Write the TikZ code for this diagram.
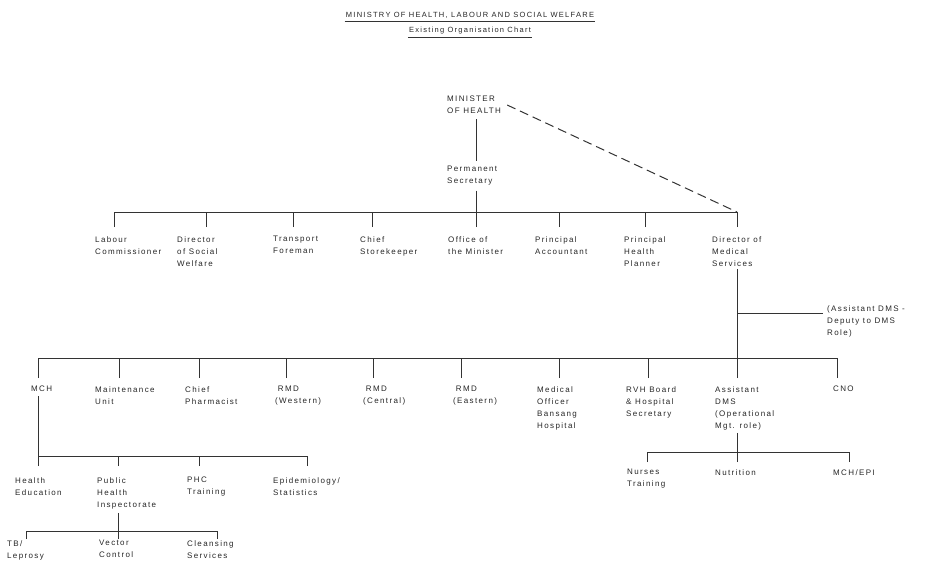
\documentclass[tikz,border=0pt]{standalone}
\usepackage{fontspec}
\setmainfont{Liberation Sans}[LetterSpace=17]
\begin{document}
\begin{tikzpicture}[x=1pt,y=-1pt,
  lbl/.style={anchor=north west, inner sep=0pt, align=left, text=black!85,
    font=\fontsize{8}{12}\selectfont},
  ttl/.style={inner sep=1pt, text=black!85, font=\fontsize{7.5}{9}\selectfont},
  ln/.style={line width=1pt, black!80}]
\useasboundingbox (0,0) rectangle (925,565);

% titles
\node[ttl] (title) at (470,15) {MINISTRY OF HEALTH, LABOUR AND SOCIAL WELFARE};
\node[ttl] (subtitle) at (470,31) {Existing Organisation Chart};
\draw[ln, line width=1.3pt] ([yshift=-2pt]title.south west) -- ([yshift=-2pt]title.south east);
\draw[ln, line width=1.3pt] ([yshift=-2pt]subtitle.south west) -- ([yshift=-2pt]subtitle.south east);

% bus heights
\coordinate (bus1) at (0,212);
\coordinate (bus2) at (0,358);
\coordinate (bus3) at (0,456);
\coordinate (bus4) at (0,531);
\coordinate (bus5) at (0,452);

% top
\node[lbl] (mini) at (447,96) {MINISTER\\OF HEALTH};
\node[lbl] (ps) at (447,166) {Permanent\\Secretary};

% first tier
\node[lbl] (lab) at (95,236) {Labour\\Commissioner};
\node[lbl] (dsw) at (177,236) {Director\\of Social\\Welfare};
\node[lbl] (tra) at (273,236) {Transport\\Foreman};
\node[lbl] (chs) at (360,236) {Chief\\Storekeeper};
\node[lbl] (off) at (448,236) {Office of\\the Minister};
\node[lbl] (pac) at (535,236) {Principal\\Accountant};
\node[lbl] (php) at (624,236) {Principal\\Health\\Planner};
\node[lbl] (dms) at (712,236) {Director of\\Medical\\Services};
\node[lbl] (dep) at (827,305) {(Assistant DMS -\\Deputy to DMS\\Role)};

\foreach \n/\x in {lab/114,dsw/206,tra/293,chs/372,off/476,pac/559,php/645,dms/737}
{
  \coordinate (\n-t) at (\x,227);
  \draw[ln] (\n-t) -- (\n-t |- bus1);
}
\draw[ln] (lab-t |- bus1) -- (dms-t |- bus1);
\draw[ln, shorten <=5pt, shorten >=5pt] (mini.south -| off-t) -- (ps.north -| off-t);
\draw[ln, shorten <=5pt] (ps.south -| off-t) -- (off-t |- bus1);
\draw[ln, dash pattern=on 9pt off 5pt] ([xshift=6pt]mini.east) -- (dms-t |- bus1);

% second tier
\node[lbl] (mch) at (31,386) {MCH};
\node[lbl] (mnt) at (95,386) {Maintenance\\Unit};
\node[lbl] (cph) at (185,386) {Chief\\Pharmacist};
\node[lbl] (rmw) at (275,386) {\hphantom{(}RMD\\(Western)};
\node[lbl] (rmc) at (363,386) {\hphantom{(}RMD\\(Central)};
\node[lbl] (rme) at (453,386) {\hphantom{(}RMD\\(Eastern)};
\node[lbl] (mob) at (537,386) {Medical\\Officer\\Bansang\\Hospital};
\node[lbl] (rvh) at (626,386) {RVH Board\\\& Hospital\\Secretary};
\node[lbl] (adm) at (715,386) {Assistant\\DMS\\(Operational\\Mgt. role)};
\node[lbl] (cno) at (833,386) {CNO};

\foreach \n/\x in {mch/38,mnt/119,cph/199,rmw/286,rmc/373,rme/461,mob/559,rvh/648,adm/737,cno/837}
{
  \coordinate (\n-t) at (\x,378);
  \draw[ln] (\n-t) -- (\n-t |- bus2);
}
\draw[ln] (mch-t |- bus2) -- (cno-t |- bus2);
\draw[ln, shorten <=3pt] (dms.south -| dms-t) -- (adm-t);
\coordinate (dep-j) at (737,313);
\draw[ln, shorten >=4pt] (dep-j) -- (dep-j -| dep.west);

% MCH units
\node[lbl] (hed) at (15,477) {Health\\Education};
\node[lbl] (phi) at (97,477) {Public\\Health\\Inspectorate};
\node[lbl] (phc) at (187,477) {PHC\\Training};
\node[lbl] (epi) at (273,477) {Epidemiology/\\Statistics};

\foreach \n/\x in {hed/38,phi/118,phc/199,epi/307}
{
  \coordinate (\n-t) at (\x,466);
  \draw[ln] (\n-t) -- (\n-t |- bus3);
}
\draw[ln] (hed-t |- bus3) -- (epi-t |- bus3);
\draw[ln, shorten <=4pt] (mch.south -| mch-t) -- (hed-t |- bus3);

% inspectorate units
\node[lbl] (tbl) at (7,540) {TB/\\Leprosy};
\node[lbl] (vec) at (99,540) {Vector\\Control};
\node[lbl] (cls) at (187,540) {Cleansing\\Services};

\foreach \n/\x in {tbl/26,vec/118,cls/217}
{
  \coordinate (\n-t) at (\x,539);
  \draw[ln] (\n-t) -- (\n-t |- bus4);
}
\draw[ln] (tbl-t |- bus4) -- (cls-t |- bus4);
\draw[ln, shorten <=4pt] (phi.south -| phi-t) -- (vec-t |- bus4);

% assistant DMS units
\node[lbl] (nrs) at (627,469) {Nurses\\Training};
\node[lbl] (nut) at (715,469) {Nutrition};
\node[lbl] (mep) at (833,469) {MCH/EPI};

\foreach \n/\x in {nrs/647,nut/737,mep/849}
{
  \coordinate (\n-t) at (\x,462);
  \draw[ln] (\n-t) -- (\n-t |- bus5);
}
\draw[ln] (nrs-t |- bus5) -- (mep-t |- bus5);
\draw[ln, shorten <=3pt] (adm.south -| adm-t) -- (nut-t |- bus5);
\end{tikzpicture}
\end{document}
